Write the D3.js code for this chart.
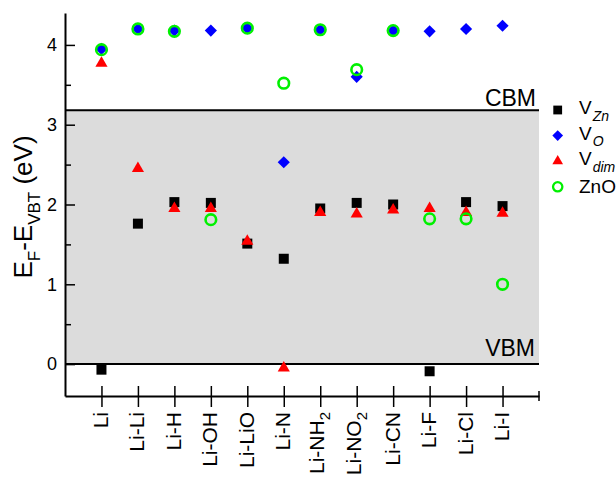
<!DOCTYPE html>
<html lang="en">
<head>
<meta charset="UTF-8">
<title>Fermi level</title>
<script src="https://cdn.jsdelivr.net/npm/d3@7"></script>
<style>
  body { margin: 0; background: #fff; }
  text { font-family: "Liberation Sans", Arial, Helvetica, sans-serif; }
</style>
</head>
<body>
<svg width="616" height="477" id="svgcontainer"></svg>
<script>
  // categories and values
  const categories = ['Li', 'Li-Li', 'Li-H', 'Li-OH', 'Li-LiO', 'Li-N', 'Li-NH2', 'Li-NO2', 'Li-CN', 'Li-F', 'Li-Cl', 'Li-I'];
  const vZn  = [-0.07, 1.76, 2.03, 2.02, 1.51, 1.32, 1.95, 2.02, 2.00, -0.09, 2.03, 1.98];
  const vO   = [3.95, 4.20, 4.18, 4.18, 4.21, 2.53, 4.19, 3.60, 4.18, 4.17, 4.20, 4.24];
  const vDim = [3.77, 2.45, 1.95, 1.95, 1.54, -0.05, 1.90, 1.88, 1.93, 1.95, 1.90, 1.89];
  const zno  = [3.94, 4.20, 4.17, 1.81, 4.21, 3.52, 4.19, 3.69, 4.18, 1.82, 1.82, 1.00];
  const yTicks = [0, 1, 2, 3, 4];
  const yMinor = [0.5, 1.5, 2.5, 3.5];
  const cbm = 3.18, vbm = 0;

  const svg = d3.select('#svgcontainer');
  const mLeft = 65, mRight = 539, mTop = 13, mBottom = 396;

  const x = d3.scaleLinear().domain([-1, categories.length]).range([mLeft, mRight]);
  const y = d3.scaleLinear().domain([-0.4, 4.4]).range([mBottom, mTop]);

  // gap band
  svg.append('rect')
    .attr('x', x(-1)).attr('width', x(categories.length) - x(-1))
    .attr('y', y(cbm)).attr('height', y(vbm) - y(cbm))
    .attr('fill', '#dcdcdc');
  [cbm, vbm].forEach(v => {
    svg.append('line').attr('x1', mLeft).attr('x2', mRight)
      .attr('y1', y(v)).attr('y2', y(v))
      .attr('stroke', '#000').attr('stroke-width', 2);
  });
  svg.append('text').text('CBM').attr('x', 536).attr('y', y(cbm) - 4)
    .attr('text-anchor', 'end').attr('font-size', 23);
  svg.append('text').text('VBM').attr('x', 535).attr('y', y(vbm) - 8)
    .attr('text-anchor', 'end').attr('font-size', 23);

  // y axis
  const yAxis = d3.axisLeft(y).tickValues(yTicks).tickSizeInner(-10).tickSizeOuter(0).tickPadding(8).tickFormat(d3.format('d'));
  const gy = svg.append('g').attr('transform', `translate(${mLeft},0)`).call(yAxis);
  gy.select('.domain').attr('stroke-width', 2);
  gy.selectAll('.tick line').attr('stroke-width', 1.5);
  gy.selectAll('.tick text').attr('font-size', 18).attr('font-family', '"Liberation Sans", Arial, sans-serif').attr('fill', '#000');
  const gyMinor = svg.append('g').attr('transform', `translate(${mLeft},0)`)
    .call(d3.axisLeft(y).tickValues(yMinor).tickSizeInner(-6).tickSizeOuter(0).tickFormat(''));
  gyMinor.select('.domain').remove();
  gyMinor.selectAll('.tick line').attr('stroke-width', 1.5);

  // x axis
  const xAxis = d3.axisBottom(x).tickValues(d3.range(categories.length)).tickSizeInner(11).tickSizeOuter(0).tickFormat('');
  const gx = svg.append('g').attr('transform', `translate(0,${mBottom})`).call(xAxis);
  gx.select('.domain').attr('stroke-width', 2);
  gx.selectAll('.tick line').attr('y1', -10).attr('stroke-width', 1.5);
  gx.append('line').attr('x1', mRight).attr('x2', mRight).attr('y1', -5).attr('y2', 5).attr('stroke', '#000').attr('stroke-width', 1.5);

  const lab = svg.append('g');
  categories.forEach((c, i) => {
    const t = lab.append('text')
      .attr('transform', `translate(${x(i)},412) rotate(-90)`)
      .attr('text-anchor', 'end').attr('font-size', 21);
    const m = c.match(/^(.*?)(\d+)$/);
    if (m) {
      t.append('tspan').text(m[1]);
      t.append('tspan').text(m[2]).attr('font-size', 15).attr('dy', 6);
    } else {
      t.text(c);
    }
    const bb = t.node().getBBox();
    t.attr('y', -(bb.y + bb.height / 2) - 1);
  });

  // y label
  const yl = svg.append('text').attr('transform', 'translate(32,207) rotate(-90)')
    .attr('text-anchor', 'middle').attr('font-size', 26);
  yl.append('tspan').text('E');
  yl.append('tspan').text('F').attr('font-size', 17).attr('dy', 8);
  yl.append('tspan').text('-E').attr('dy', -8);
  yl.append('tspan').text('VBT').attr('font-size', 17).attr('dy', 8);
  yl.append('tspan').text(' (eV)').attr('dy', -8);

  // markers
  const series = [
    {name: 'Zn', values: vZn, shape: 'square', fill: '#000', stroke: 'none'},
    {name: 'O', values: vO, shape: 'diamond', fill: '#0000ff', stroke: 'none'},
    {name: 'dim', values: vDim, shape: 'triangle', fill: '#ff0000', stroke: 'none'},
    {name: 'ZnO', values: zno, shape: 'circle', fill: 'none', stroke: '#00f000'}
  ];
  function symPath(shape, s) {
    if (shape === 'square') return d3.symbol(d3.symbolSquare, 100 * s * s)();
    if (shape === 'diamond') return d3.symbol(d3.symbolSquare, 74 * s * s)();
    if (shape === 'triangle') return d3.symbol(d3.symbolTriangle, 64 * s * s)();
    return d3.symbol(d3.symbolCircle, Math.PI * 5.3 * 5.3 * s * s)();
  }
  function draw(g, d, px, py, s) {
    const p = g.append('path').attr('d', symPath(d.shape, s))
      .attr('fill', d.fill).attr('stroke', d.stroke)
      .attr('stroke-width', d.shape === 'circle' ? 2.6 * s : 0);
    p.attr('transform', `translate(${px},${py})` + (d.shape === 'diamond' ? ' rotate(45)' : ''));
  }
  const gm = svg.append('g');
  series.forEach(sr => {
    sr.values.forEach((v, i) => draw(gm, sr, x(i), y(v), 1));
  });

  // legend
  const lg = svg.append('g');
  series.forEach((sr, i) => {
    const cy = 110 + i * 25.6;
    draw(lg, sr, 557.7, cy, 0.88);
    const t = lg.append('text').attr('x', 579).attr('font-size', 19);
    if (sr.name === 'ZnO') {
      t.attr('y', cy + 6.6).text('ZnO');
    } else {
      t.attr('y', cy + 4);
      t.append('tspan').text('V');
      t.append('tspan').text(sr.name).attr('font-size', 14).attr('font-style', 'italic').attr('dy', 6.5).attr('dx', 1);
    }
  });
</script>
</body>
</html>
